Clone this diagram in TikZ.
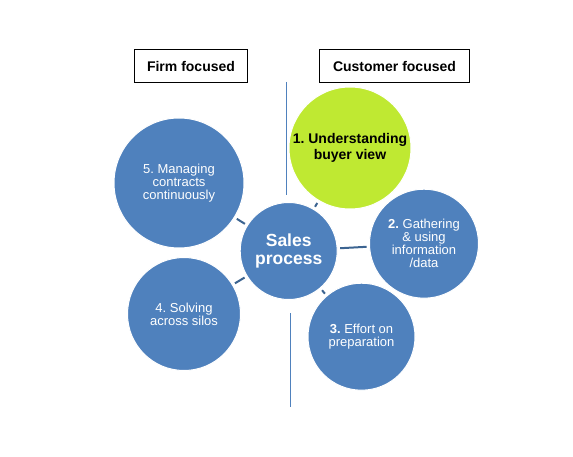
\documentclass[tikz,border=0pt]{standalone}
\usepackage{fontspec}
\setmainfont{Liberation Sans}
\frenchspacing
\definecolor{cblue}{RGB}{79,129,189}
\definecolor{cgreen}{RGB}{191,233,50}
\definecolor{clink}{RGB}{60,100,145}
\begin{document}
\begin{tikzpicture}[x=1pt,y=-1pt,
  bub/.style={circle,fill=cblue,draw=white,line width=1pt,inner sep=0pt,align=center,text=white,font=\fontsize{13}{13}\selectfont},
  hdr/.style={draw=black,line width=1pt,minimum width=113pt,minimum height=33pt,inner sep=0pt,font=\fontsize{14}{16}\selectfont\bfseries},
  link/.style={draw=clink,line width=2pt,shorten >=2.5pt,shorten <=2.5pt},
  divider/.style={draw=cblue,line width=1pt}]
\useasboundingbox (0,0) rectangle (573,457);
\fill[white] (0,0) rectangle (573,457);
\node[hdr] (firm) at (191,66) {Firm focused};
\node[hdr,minimum width=150pt] (cust) at (394.5,66) {Customer focused};
\coordinate (d1a) at (286.5,82);
\coordinate (d1b) at (286.5,195);
\coordinate (d2a) at (290.5,313);
\coordinate (d2b) at (290.5,407);
\draw[divider] (d1a) -- (d1b);
\draw[divider] (d2a) -- (d2b);
\node[bub,minimum size=130pt] (c5) at (179,183) {5. Managing\\contracts\\continuously};
\node[bub,minimum size=122pt,fill=cgreen,text=black,font=\fontsize{14}{16.7}\selectfont\bfseries] (c1) at (350,148) {1. Understanding\\buyer view};
\node[bub,minimum size=109pt] (c2) at (424,243.7) {\textbf{2.} Gathering\\\& using\\information\\/data};
\node[bub,minimum size=113pt] (c4) at (184,314) {4. Solving\\across silos};
\node[bub,minimum size=107pt] (c3) at (361.5,336.7) {\textbf{3.} Effort on\\preparation};
\node[bub,minimum size=97pt,font=\fontsize{17.5}{18.3}\selectfont\bfseries] (s) at (288.7,251) {Sales\\process};
\draw[link] (s) -- (c1);
\draw[link] (s) -- (c2);
\draw[link] (s) -- (c3);
\draw[link] (s) -- (c4);
\draw[link] (s) -- (c5);
\end{tikzpicture}
\end{document}
